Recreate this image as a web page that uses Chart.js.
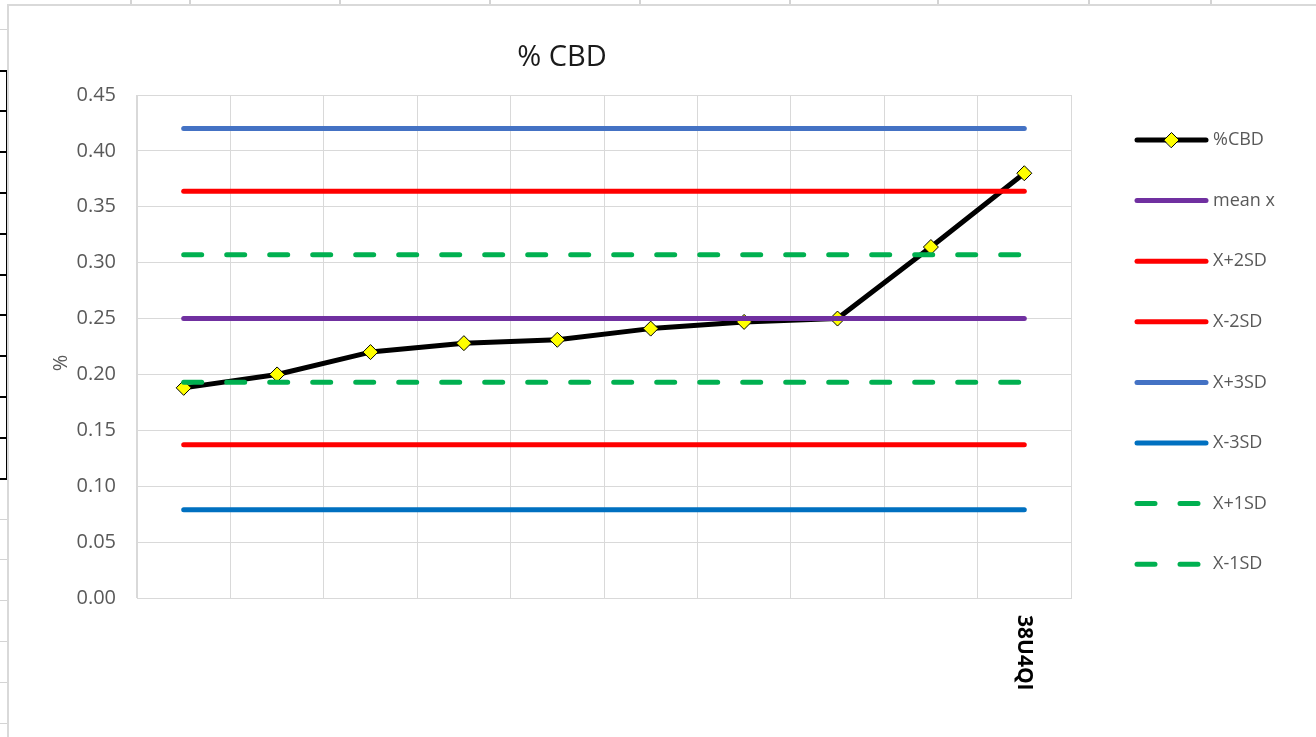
<!DOCTYPE html>
<html>
<head>
<meta charset="utf-8">
<script src="https://cdn.jsdelivr.net/npm/chart.js@4/dist/chart.umd.min.js"></script>
<style>
  html, body { margin: 0; padding: 0; background: #fff; overflow: hidden; }
  body { width: 1316px; height: 737px; position: relative; }
  .cell-v { position: absolute; top: 0; height: 5px; width: 2px; background: #d4d4d4; }
  .cell-h { position: absolute; left: 0; width: 7px; height: 1px; background: #d4d4d4; }
  .cell-h.dark { height: 2px; background: #000; }
  #sheetBox { position: absolute; left: 6px; top: 70px; width: 1px; height: 410px; background: #000; }
  #chartWrap {
    position: absolute; left: 7px; top: 4px;
    width: 1307px; height: 731px;
    border-left: 2px solid #d9d9d9; border-top: 2px solid #d9d9d9;
    background: #fff;
  }
</style>
</head>
<body>
<div id="sheet"></div>
<div id="sheetBox"></div>
<div id="chartWrap"><canvas id="cbdChart"></canvas></div>
<script>
// category labels (only the last one is shown in the original)
const categories = ['', '', '', '', '', '', '', '', '', '38U4QI'];

// measured %CBD per sample
const cbdValues = [0.188, 0.200, 0.220, 0.228, 0.231, 0.241, 0.247, 0.250, 0.314, 0.380];

// control limits (flat lines)
const meanX   = [0.250, 0.250, 0.250, 0.250, 0.250, 0.250, 0.250, 0.250, 0.250, 0.250];
const plus2SD = [0.364, 0.364, 0.364, 0.364, 0.364, 0.364, 0.364, 0.364, 0.364, 0.364];
const minus2SD = [0.137, 0.137, 0.137, 0.137, 0.137, 0.137, 0.137, 0.137, 0.137, 0.137];
const plus3SD = [0.420, 0.420, 0.420, 0.420, 0.420, 0.420, 0.420, 0.420, 0.420, 0.420];
const minus3SD = [0.079, 0.079, 0.079, 0.079, 0.079, 0.079, 0.079, 0.079, 0.079, 0.079];
const plus1SD = [0.307, 0.307, 0.307, 0.307, 0.307, 0.307, 0.307, 0.307, 0.307, 0.307];
const minus1SD = [0.193, 0.193, 0.193, 0.193, 0.193, 0.193, 0.193, 0.193, 0.193, 0.193];

const yTicks = [0, 0.05, 0.10, 0.15, 0.20, 0.25, 0.30, 0.35, 0.40, 0.45];

const chartTitle = '% CBD';
const yTitle = '%';

// spreadsheet cell borders around the embedded chart
(function drawSheet() {
    const sheet = document.getElementById('sheet');
    [130, 189, 339, 489, 639, 789, 937, 1088, 1210].forEach(x => {
        const d = document.createElement('div');
        d.className = 'cell-v';
        d.style.left = x + 'px';
        sheet.appendChild(d);
    });
    [29, 519, 559, 600, 641, 682, 723].forEach(y => {
        const d = document.createElement('div');
        d.className = 'cell-h';
        d.style.top = y + 'px';
        sheet.appendChild(d);
    });
    [70, 110, 151, 192, 233, 274, 314, 355, 396, 437, 478].forEach(y => {
        const d = document.createElement('div');
        d.className = 'cell-h dark';
        d.style.top = y + 'px';
        sheet.appendChild(d);
    });
})();

const dash = [18, 25];

function refLine(label, data, color, borderDash) {
    return {
        label: label,
        data: data,
        borderColor: color,
        backgroundColor: color,
        borderWidth: 5,
        borderDash: borderDash || [],
        borderCapStyle: 'round',
        pointRadius: 0,
        pointHoverRadius: 0,
        fill: false,
        tension: 0,
        order: 0
    };
}

// titles, right-hand legend and rotated category labels
const extrasPlugin = {
    id: 'extras',
    afterDraw(chart) {
        const ctx = chart.ctx;
        const xScale = chart.scales.x;

        // chart title (Excel centres it a bit right of the plot)
        ctx.save();
        ctx.font = '29px "Open Sans"';
        ctx.fillStyle = '#1a1a1a';
        ctx.textAlign = 'center';
        ctx.textBaseline = 'middle';
        ctx.fillText(chartTitle, 553, 52);
        ctx.restore();

        // y axis title
        ctx.save();
        ctx.font = '20px "Open Sans"';
        ctx.fillStyle = '#595959';
        ctx.textAlign = 'center';
        ctx.textBaseline = 'middle';
        ctx.translate(52, 357);
        ctx.rotate(-Math.PI / 2);
        ctx.fillText(yTitle, 0, 0);
        ctx.restore();

        // category labels, rotated to read downward
        ctx.save();
        ctx.font = 'bold 21px "Open Sans"';
        ctx.fillStyle = '#000';
        ctx.textAlign = 'left';
        ctx.textBaseline = 'middle';
        chart.data.labels.forEach((lab, i) => {
            if (!lab) return;
            ctx.save();
            ctx.translate(xScale.getPixelForValue(i), xScale.top + 17);
            ctx.rotate(Math.PI / 2);
            ctx.fillText(lab, 0, 0);
            ctx.restore();
        });
        ctx.restore();

        // legend
        const x0 = 1128, x1 = 1197, textX = 1204;
        let y = 134;
        chart.data.datasets.forEach(ds => {
            ctx.save();
            ctx.strokeStyle = ds.borderColor;
            ctx.lineWidth = ds.borderWidth;
            ctx.lineCap = 'round';
            ctx.setLineDash(ds.borderDash || []);
            ctx.beginPath();
            ctx.moveTo(x0, y);
            ctx.lineTo(x1, y);
            ctx.stroke();
            ctx.setLineDash([]);
            if (ds.pointRadius > 0) {
                ctx.fillStyle = ds.pointBackgroundColor;
                ctx.strokeStyle = ds.pointBorderColor;
                ctx.lineWidth = ds.pointBorderWidth;
                Chart.helpers.drawPoint(ctx, {
                    pointStyle: ds.pointStyle,
                    radius: ds.pointRadius,
                    rotation: 0,
                    borderWidth: ds.pointBorderWidth
                }, (x0 + x1) / 2, y);
            }
            ctx.font = '18px "Open Sans"';
            ctx.fillStyle = '#595959';
            ctx.textAlign = 'left';
            ctx.textBaseline = 'middle';
            ctx.fillText(ds.label, textX, y);
            ctx.restore();
            y += 60.6;
        });
    }
};

Chart.defaults.font.family = '"Open Sans"';

const ctx = document.getElementById('cbdChart').getContext('2d');
const cbdChart = new Chart(ctx, {
    type: 'line',
    data: {
        labels: categories,
        datasets: [
            {
                label: '%CBD',
                data: cbdValues,
                borderColor: '#000000',
                backgroundColor: '#000000',
                borderWidth: 5,
                borderCapStyle: 'round',
                borderJoinStyle: 'round',
                pointStyle: 'rectRot',
                pointRadius: 7.5,
                pointHoverRadius: 7.5,
                pointBackgroundColor: '#FFFF00',
                pointBorderColor: '#000000',
                pointBorderWidth: 1,
                fill: false,
                tension: 0,
                order: 1 // drawn underneath the limit lines
            },
            refLine('mean x', meanX, '#7030A0'),
            refLine('X+2SD', plus2SD, '#FF0000'),
            refLine('X-2SD', minus2SD, '#FF0000'),
            refLine('X+3SD', plus3SD, '#4472C4'),
            refLine('X-3SD', minus3SD, '#0070C0'),
            refLine('X+1SD', plus1SD, '#00B050', dash),
            refLine('X-1SD', minus1SD, '#00B050', dash)
        ]
    },
    options: {
        responsive: true,
        maintainAspectRatio: false,
        animation: false,
        layout: {
            padding: { left: 0, right: 245, top: 89, bottom: 0 }
        },
        scales: {
            x: {
                type: 'category',
                offset: true,
                grid: {
                    offset: true,
                    color: '#d9d9d9',
                    lineWidth: 1,
                    drawTicks: false
                },
                border: { color: '#d9d9d9', width: 1 },
                ticks: { display: false },
                afterFit: (scale) => { scale.height = 139; }
            },
            y: {
                min: 0,
                max: 0.45,
                afterBuildTicks: (scale) => {
                    scale.ticks = yTicks.map(v => ({ value: v }));
                },
                grid: {
                    color: '#d9d9d9',
                    lineWidth: 1,
                    drawTicks: false
                },
                border: { color: '#d9d9d9', width: 1 },
                ticks: {
                    padding: 21,
                    color: '#595959',
                    font: { size: 20 },
                    callback: (v) => Number(v).toFixed(2)
                },
                afterFit: (scale) => { scale.width = 128; }
            }
        },
        plugins: {
            legend: { display: false },
            tooltip: { enabled: false },
            title: { display: false }
        }
    },
    plugins: [extrasPlugin]
});
</script>
</body>
</html>
